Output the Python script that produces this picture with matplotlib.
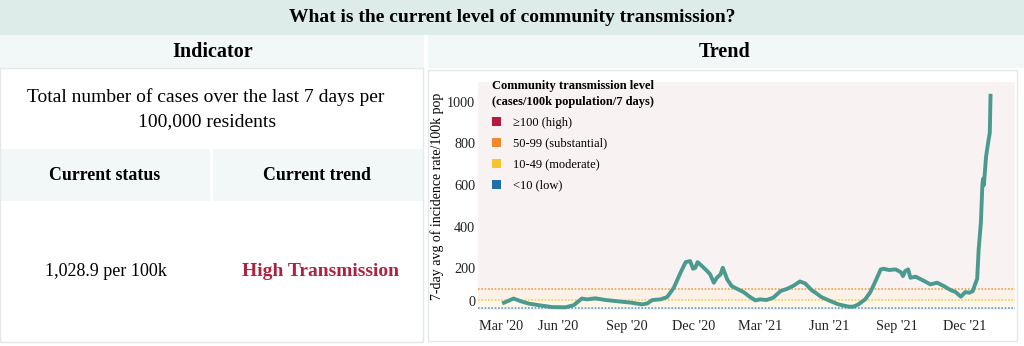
import numpy as np
import pandas as pd
import matplotlib
matplotlib.use("Agg")
import matplotlib.pyplot as plt
import matplotlib.dates as mdates
import matplotlib.transforms as mtransforms
from matplotlib.patches import Rectangle, Patch

plt.rcParams['font.family'] = ['Liberation Serif', 'DejaVu Serif']

# 7-day avg of incidence rate per 100k
dates = ["2020-03-20", "2020-04-02", "2020-04-11", "2020-04-22", "2020-05-06", "2020-05-24",
         "2020-06-11", "2020-06-22", "2020-07-03", "2020-07-10", "2020-07-21", "2020-08-04",
         "2020-08-17", "2020-08-31", "2020-09-08", "2020-09-22", "2020-09-29", "2020-10-06",
         "2020-10-17", "2020-10-26", "2020-11-04", "2020-11-13", "2020-11-20", "2020-11-26",
         "2020-11-30", "2020-12-03", "2020-12-06", "2020-12-12", "2020-12-19", "2020-12-23",
         "2020-12-28", "2021-01-01", "2021-01-06", "2021-01-09", "2021-01-15", "2021-01-21",
         "2021-01-28", "2021-02-06", "2021-02-15", "2021-02-22", "2021-02-28", "2021-03-09",
         "2021-03-18", "2021-03-28", "2021-04-06", "2021-04-15", "2021-04-23", "2021-04-30",
         "2021-05-09", "2021-05-16", "2021-05-22", "2021-06-03", "2021-06-14", "2021-06-28",
         "2021-07-04", "2021-07-11", "2021-07-20", "2021-07-27", "2021-08-03", "2021-08-10",
         "2021-08-14", "2021-08-21", "2021-08-30", "2021-09-06", "2021-09-09", "2021-09-12",
         "2021-09-16", "2021-09-19", "2021-09-26", "2021-10-05", "2021-10-16", "2021-10-25",
         "2021-11-03", "2021-11-12", "2021-11-19", "2021-11-26", "2021-12-02", "2021-12-08",
         "2021-12-12", "2021-12-16", "2021-12-18", "2021-12-20", "2021-12-23", "2021-12-25",
         "2021-12-26", "2021-12-27", "2021-12-30", "2022-01-02", "2022-01-04", "2022-01-05"]
rates = [35, 55, 43, 31, 23, 14,
         13, 23, 55, 51, 56, 48,
         43, 38, 35, 27, 31, 48,
         51, 62, 107, 179, 230, 235,
         198, 203, 230, 211, 187, 171,
         131, 155, 171, 203, 147, 115,
         102, 86, 62, 46, 51, 48,
         59, 91, 102, 118, 137, 128,
         95, 78, 62, 43, 27, 16,
         16, 27, 51, 86, 139, 195,
         198, 192, 195, 182, 163, 187,
         195, 155, 160, 144, 123, 131,
         115, 96, 86, 64, 86, 83,
         91, 131, 150, 290, 420, 600,
         630, 600, 737, 809, 850, 1028.9]

levels = ["\u2265100 (high)", "50-99 (substantial)", "10-49 (moderate)", "<10 (low)"]
level_colors = ["#b8173f", "#f0892f", "#f6c42f", "#1f6fa8"]
thresholds = [100, 50, 10]

W, H = 1024, 346
fig = plt.figure(figsize=(W / 100, H / 100), dpi=100)


def px(x, y, w, h):
    # pixel box (top-left origin) -> figure fraction
    return [x / W, 1 - (y + h) / H, w / W, h / H]


def box(x, y, w, h, fc, ec="none", lw=0):
    b = px(x, y, w, h)
    fig.patches.append(Rectangle((b[0], b[1]), b[2], b[3], transform=fig.transFigure,
                                 facecolor=fc, edgecolor=ec, linewidth=lw, zorder=0))


def txt(x, y, s, **kw):
    fig.text(x / W, 1 - y / H, s, ha="center", va="center", **kw)


# table background
box(0, 0, W, 35, "#ddece8")
box(0, 35, 424, 33, "#f2f8f8")
box(428, 35, 596, 33, "#f2f8f8")
box(0, 149, 210, 52, "#f2f8f8")
box(213, 149, 210, 52, "#f2f8f8")
box(0, 68, 423, 274, "none", ec="#e4e8e8", lw=1)
box(428, 70, 589, 271, "none", ec="#e4e8e8", lw=1)

txt(512, 17, "What is the current level of community transmission?", fontsize=14, fontweight="bold")
txt(213, 52, "Indicator", fontsize=14.5, fontweight="bold")
txt(725, 52, "Trend", fontsize=14.5, fontweight="bold")
txt(206, 97, "Total number of cases over the last 7 days per", fontsize=14)
txt(207, 122, "100,000 residents", fontsize=14)
txt(105, 176, "Current status", fontsize=12.8, fontweight="bold")
txt(317, 176, "Current trend", fontsize=12.8, fontweight="bold")
txt(106, 272, "1,028.9 per 100k", fontsize=13)
txt(321, 272, "High Transmission", fontsize=14, fontweight="bold", color="#b0213f")

# trend chart
ax = fig.add_axes(px(478, 82, 537, 228))
ax.set_facecolor("#f9f2f2")
ax.axhspan(50, 100, color="#fbf1e6", zorder=0)
ax.axhspan(10, 50, color="#fcf7ea", zorder=0)
ax.axhspan(-50, 10, color="#eef3f7", zorder=0)
for t, c in zip(thresholds, ["#e9a452", "#f2cf5a", "#6f9bbd"]):
    ax.axhline(t, color=c, lw=1.2, ls=(0, (1, 1)), zorder=1)

x = pd.to_datetime(dates)
ax.plot(x, rates, color="#4b9a90", lw=2.8, solid_joinstyle="round", zorder=3)

ax.set_ylim(3, 1095)
ax.set_xlim(pd.Timestamp("2020-02-14"), pd.Timestamp("2022-02-07"))
ax.set_yticks([0, 200, 400, 600, 800, 1000])
ax.xaxis.set_major_locator(mdates.MonthLocator(bymonth=[3, 6, 9, 12]))
ax.xaxis.set_major_formatter(mdates.DateFormatter("%b '%y"))
ax.tick_params(length=0, labelsize=10.3, colors="#222222")
ax.tick_params(axis="x", pad=7)
ax.tick_params(axis="y", pad=2)
for s in ax.spines.values():
    s.set_visible(False)
ax.set_ylabel("7-day avg of incidence rate/100k pop", fontsize=10, labelpad=2)

# the reference draws the "0" label a little higher and "Mar '20" a little to the right
fig.canvas.draw()
ylab0 = ax.yaxis.get_major_ticks()[0].label1
ylab0.set_transform(ylab0.get_transform() + mtransforms.ScaledTranslation(0, 0.085, fig.dpi_scale_trans))
xlab0 = ax.xaxis.get_major_ticks()[0].label1
xlab0.set_transform(xlab0.get_transform() + mtransforms.ScaledTranslation(0.11, 0, fig.dpi_scale_trans))

handles = [Patch(facecolor=c, edgecolor="none") for c in level_colors]
leg = ax.legend(handles, levels, loc="upper left", bbox_to_anchor=(0.026, 1.008),
                title="Community transmission level\n(cases/100k population/7 days)",
                title_fontproperties={"weight": "bold", "size": 9}, fontsize=9,
                frameon=False, handlelength=0.75, handleheight=0.75, labelspacing=0.72,
                handletextpad=0.95, alignment="left", borderpad=0, borderaxespad=0)
leg.get_title().set_linespacing(1.4)

fig.savefig("out.png", dpi=100)
